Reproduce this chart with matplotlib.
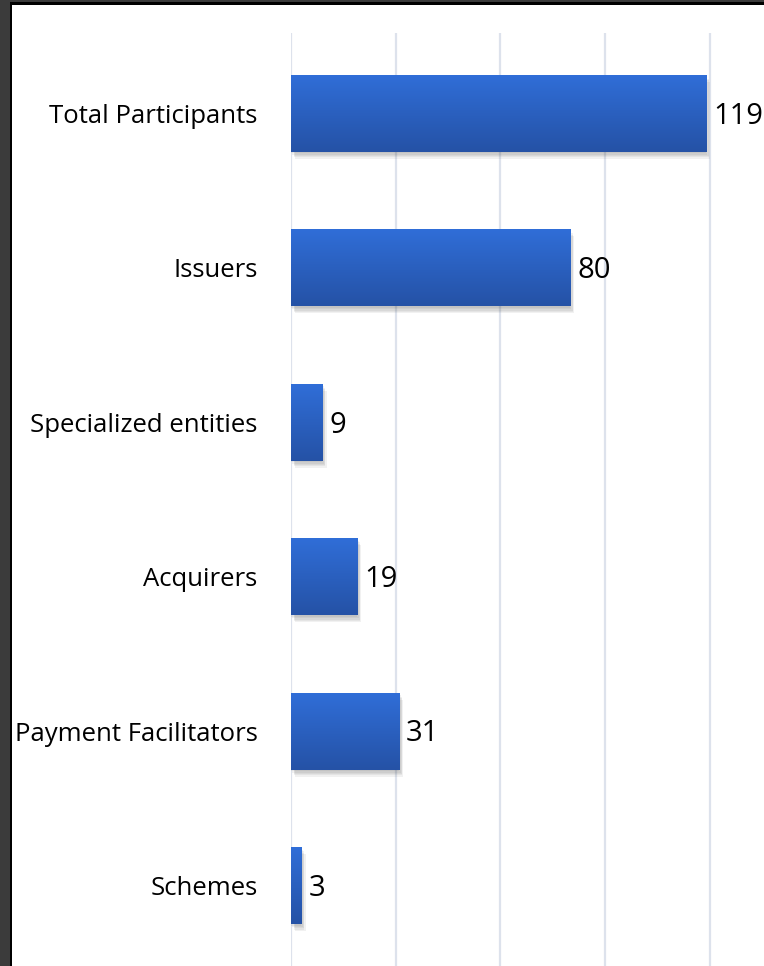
import numpy as np
import matplotlib
matplotlib.use('Agg')  # noqa

import matplotlib.pyplot as plt  # noqa
import matplotlib.patheffects as pe  # noqa
from matplotlib.patches import Rectangle  # noqa

# chart data, top to bottom
categories = ["Total Participants", "Issuers", "Specialized entities",
              "Acquirers", "Payment Facilitators", "Schemes"]
counts = [119, 80, 9, 19, 31, 3]
grid_ticks = [0, 30, 60, 90, 120]

TOP_BLUE = np.array([0x30, 0x6e, 0xd8]) / 255
BOTTOM_BLUE = np.array([0x25, 0x52, 0xa6]) / 255


def draw_frame(fig):
    # dark window border around the white slide area
    W, H = 764, 966
    fig.patch.set_facecolor('#3b3b3b')
    fig.add_artist(Rectangle((10 / W, 0), 1, 1 - 2 / H, transform=fig.transFigure,
                             facecolor='black', edgecolor='none', zorder=-10))
    fig.add_artist(Rectangle((12 / W, 0), 1, 1 - 5 / H, transform=fig.transFigure,
                             facecolor='white', edgecolor='none', zorder=-9))


def main():
    W, H = 764, 966
    fig = plt.figure(figsize=(W / 100, H / 100), dpi=100)
    draw_frame(fig)

    ax = fig.add_axes([291 / W, 0, (W - 291) / W, 1 - 33 / H])
    ax.set_facecolor('none')

    # soft drop shadow made of a few faint offset copies
    shadow = [pe.SimplePatchShadow(offset=(dx, -dy), alpha=0.07,
                                   shadow_rgbFace='#404040')
              for dx, dy in [(0, 1), (1, 2), (2, 3), (2, 4), (3, 5)]]

    y = np.arange(len(categories))
    bars = ax.barh(y, counts, height=0.5, color=BOTTOM_BLUE, zorder=3,
                   path_effects=shadow + [pe.Normal()])

    grad = np.linspace(0, 1, 64)[:, None, None]
    img = TOP_BLUE * (1 - grad) + BOTTOM_BLUE * grad
    for bar in bars:
        x0, y0 = bar.get_x(), bar.get_y()
        w, h = bar.get_width(), bar.get_height()
        im = ax.imshow(img, extent=(x0, x0 + w, y0 + h, y0), aspect='auto',
                       zorder=4, interpolation='bilinear')
        im.set_clip_path(bar)

    for bar, v in zip(bars, counts):
        ax.annotate(str(v), (bar.get_width(), bar.get_y() + bar.get_height() / 2),
                    xytext=(5, -2), textcoords='offset points', va='center',
                    ha='left', fontsize=21, family='Open Sans', color='black')

    ax.set_xlim(0, 135.6)
    ax.set_ylim(len(categories) - 0.48, -0.52)
    ax.set_xticks(grid_ticks)
    ax.set_xticklabels([])
    ax.tick_params(axis='x', length=0)
    ax.grid(axis='x', color='#dde2ec', linewidth=1.6, zorder=0)
    ax.set_axisbelow(True)

    ax.set_yticks(y)
    ax.set_yticklabels(categories, fontsize=18.5, family='Open Sans')
    ax.tick_params(axis='y', length=0, pad=24)

    for s in ax.spines.values():
        s.set_visible(False)

    plt.savefig('out.png', dpi=100, facecolor=fig.get_facecolor())


if __name__ == '__main__':
    main()
